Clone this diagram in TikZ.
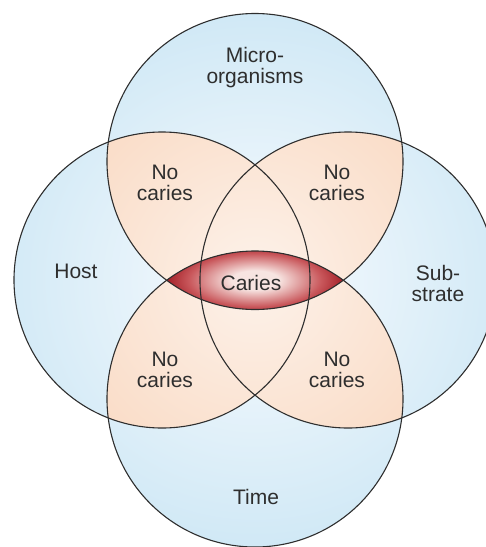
\documentclass[tikz,border=0pt]{standalone}
\usepackage{fontspec}
\setmainfont{Liberation Sans}
\definecolor{cvBlue}{HTML}{CDE7F5}
\definecolor{cvBlueLt}{HTML}{F8FBFE}
\definecolor{cvPeach}{HTML}{F9D9C2}
\definecolor{cvPeachLt}{HTML}{FDF2EA}
\definecolor{cvRed}{HTML}{A11C24}
\definecolor{cvRedMd}{HTML}{C9585C}
\definecolor{cvRedLt}{HTML}{F7E4E1}
\definecolor{cvInk}{HTML}{2E2E2E}
\pgfdeclareradialshading{lensglow}{\pgfpoint{0bp}{0bp}}{color(0bp)=(cvRedLt); color(4bp)=(cvRedLt); color(11bp)=(cvRedMd); color(15bp)=(cvRed); color(50bp)=(cvRed)}

\begin{document}
\begin{tikzpicture}[x=1pt,y=-1pt,
		lbl/.style={text=cvInk,align=center,font=\fontsize{21}{21}\selectfont},
		rim/.style={cvInk,line width=1.1pt}]
	\useasboundingbox (0,0) rectangle (486,547);
	\clip (0,0) rectangle (486,547);
	\coordinate (mic) at (255,161.5);
	\coordinate (hst) at (162,280);
	\coordinate (sub) at (348,280);
	\coordinate (tim) at (255,399);
	\coordinate (mid) at (255,280);
	\foreach \c in {mic,hst,sub,tim}{
		\begin{scope}
			\clip (\c) circle (148pt);
			\shade[inner color=cvBlueLt,outer color=cvBlue] (mid) circle (290pt);
		\end{scope}
	}
	\foreach \a/\b in {mic/hst,mic/sub,tim/hst,tim/sub,hst/sub}{
		\begin{scope}
			\clip (\a) circle (148pt);
			\clip (\b) circle (148pt);
			\shade[inner color=cvPeachLt,outer color=cvPeach] (mid) circle (240pt);
		\end{scope}
	}
	\begin{scope}
		\clip (mic) circle (148pt);
		\clip (tim) circle (148pt);
		\shade[shading=lensglow] (mid) ellipse (150pt and 60pt);
	\end{scope}
	\foreach \c in {mic,hst,sub,tim}
		\draw[rim] (\c) circle (148pt);
	\node[lbl] (micl) at (255,68) {Micro-\\organisms};
	\node[lbl] (hstl) at (76,271) {Host};
	\node[lbl] (subl) at (438,283) {Sub-\\strate};
	\node[lbl] (timl) at (256,497) {Time};
	\node[lbl] (cari) at (251,283) {Caries};
	\node[lbl] (nc1) at (165,183) {No\\caries};
	\node[lbl] (nc2) at (337,183) {No\\caries};
	\node[lbl] (nc3) at (165,370) {No\\caries};
	\node[lbl] (nc4) at (337,370) {No\\caries};
\end{tikzpicture}
\end{document}
